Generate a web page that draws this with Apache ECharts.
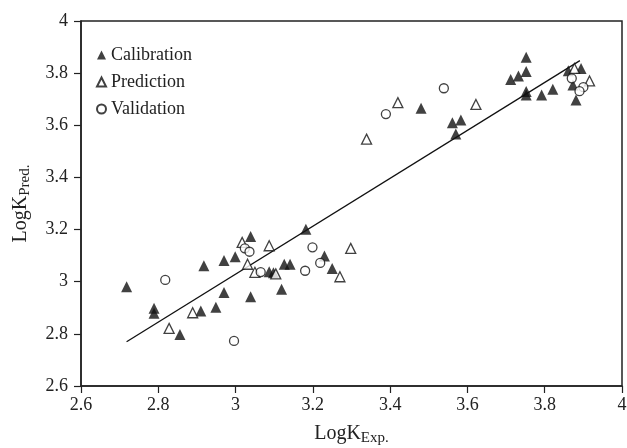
<!DOCTYPE html>
<html>
<head>
<meta charset="utf-8">
<script src="https://cdn.jsdelivr.net/npm/echarts@6/dist/echarts.min.js"></script>
<style>
  html, body { margin: 0; padding: 0; background: #fff; }
  #chart { width: 627px; height: 448px; }
</style>
</head>
<body>
<div id="chart"></div>
<script>
// 各组数据 [LogK实验值, LogK预测值]
const calibration = [
  [2.718, 2.981], [2.789, 2.898], [2.789, 2.879], [2.856, 2.798], [2.910, 2.888],
  [2.918, 3.061], [2.949, 2.902], [2.970, 3.081], [2.970, 2.959], [2.999, 3.096],
  [3.039, 3.173], [3.039, 2.942], [3.087, 3.038], [3.098, 3.034], [3.119, 2.971],
  [3.126, 3.067], [3.141, 3.067], [3.182, 3.201], [3.230, 3.099], [3.250, 3.051],
  [3.480, 3.665], [3.561, 3.610], [3.583, 3.620], [3.570, 3.567],
  [3.752, 3.861], [3.752, 3.806], [3.732, 3.789], [3.712, 3.776], [3.752, 3.730],
  [3.752, 3.716], [3.792, 3.716], [3.821, 3.738], [3.861, 3.809], [3.894, 3.818],
  [3.873, 3.755], [3.881, 3.697]
];
const prediction = [
  [2.828, 2.821], [2.889, 2.881], [3.017, 3.151], [3.031, 3.067], [3.050, 3.036],
  [3.087, 3.138], [3.104, 3.030], [3.270, 3.019], [3.298, 3.128],
  [3.339, 3.547], [3.420, 3.687], [3.622, 3.680], [3.877, 3.818], [3.916, 3.770]
];
const validation = [
  [2.818, 3.007], [2.996, 2.773], [3.024, 3.128], [3.036, 3.115], [3.065, 3.037],
  [3.180, 3.042], [3.199, 3.132], [3.219, 3.072],
  [3.389, 3.643], [3.539, 3.742], [3.870, 3.780], [3.900, 3.746], [3.890, 3.731]
];
// 回归线端点
const fitLine = [[2.718, 2.770], [3.891, 3.848]];

const serif = 'Liberation Serif';
const chart = echarts.init(document.getElementById('chart'));

const axisCommon = {
  type: 'value',
  interval: 0.2,
  splitLine: { show: false },
  axisLine: { show: true, lineStyle: { color: '#222', width: 1.5 } },
  axisTick: { show: true, length: 7, lineStyle: { color: '#222', width: 1.2 } },
  axisLabel: { color: '#222', fontFamily: serif, fontSize: 18 },
  nameLocation: 'middle',
  nameTextStyle: {
    color: '#222',
    fontFamily: serif,
    rich: {
      a: { fontFamily: serif, fontSize: 20, color: '#222' },
      b: { fontFamily: serif, fontSize: 15, color: '#222', padding: [9, 0, 0, 0] }
    }
  }
};

const option = {
  backgroundColor: '#fff',
  animation: false,
  grid: {
    left: 81, right: 5, top: 21, bottom: 62,
    outerBoundsMode: 'none',
    show: true, borderColor: '#222', borderWidth: 1.5
  },
  legend: {
    orient: 'vertical',
    left: 91,
    top: 41,
    itemWidth: 9,
    itemHeight: 9,
    itemGap: 9,
    textStyle: { fontFamily: serif, fontSize: 18, color: '#222' },
    data: ['Calibration', 'Prediction', 'Validation']
  },
  xAxis: Object.assign({}, axisCommon, {
    min: 2.6, max: 4,
    name: '{a|LogK}{b|Exp.}',
    nameGap: 36,
    axisLabel: Object.assign({}, axisCommon.axisLabel, { margin: 10 })
  }),
  yAxis: Object.assign({}, axisCommon, {
    min: 2.6, max: 4,
    name: '{a|LogK}{b|Pred.}',
    nameGap: 48,
    axisLabel: Object.assign({}, axisCommon.axisLabel, { margin: 13 })
  }),
  series: [
    {
      name: 'fit',
      type: 'line',
      data: fitLine,
      symbol: 'none',
      lineStyle: { color: '#111', width: 1.3 },
      silent: true,
      z: 1
    },
    {
      name: 'Calibration',
      type: 'scatter',
      symbol: 'triangle',
      symbolSize: 11,
      itemStyle: { color: '#111' },
      data: calibration,
      z: 2
    },
    {
      name: 'Prediction',
      type: 'scatter',
      symbol: 'triangle',
      symbolSize: 10,
      itemStyle: { color: '#fff', borderColor: '#111', borderWidth: 1.3 },
      data: prediction,
      z: 3
    },
    {
      name: 'Validation',
      type: 'scatter',
      symbol: 'circle',
      symbolSize: 9,
      itemStyle: { color: '#fff', borderColor: '#111', borderWidth: 1.3 },
      data: validation,
      z: 4
    }
  ]
};

chart.setOption(option);
window.addEventListener('resize', () => chart.resize());
</script>
</body>
</html>
